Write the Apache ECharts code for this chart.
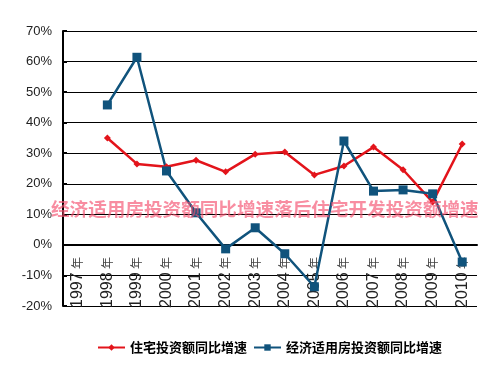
<!DOCTYPE html>
<html><head><meta charset="utf-8">
<script src="https://cdn.jsdelivr.net/npm/echarts@6/dist/echarts.min.js"></script>
<style>html,body{margin:0;padding:0;background:#fff}#c{width:494px;height:370px}</style>
</head><body><div id="c"></div>
<script>
const categories = ['1997年','1998年','1999年','2000年','2001年','2002年','2003年','2004年','2005年','2006年','2007年','2008年','2009年','2010年'];
const housingGrowth = [null, 35.0, 26.5, 25.6, 27.7, 23.9, 29.7, 30.4, 22.9, 25.8, 32.0, 24.6, 14.0, 33.0];
const affordableGrowth = [null, 45.8, 61.4, 24.2, 10.5, -1.3, 5.6, -2.9, -13.7, 34.0, 17.6, 18.0, 16.7, -5.6];
const seriesNames = ['住宅投资额同比增速', '经济适用房投资额同比增速'];
const watermark = '经济适用房投资额同比增速落后住宅开发投资额增速';

const chart = echarts.init(document.getElementById('c'));
chart.setOption({
  animation: false,
  backgroundColor: '#fff',
  grid: {left: 63, right: 17, top: 31, bottom: 64},
  legend: {
    left: 92, top: 336, itemWidth: 27, itemHeight: 8, itemGap: 6,
    textStyle: {fontFamily: 'Noto Sans CJK SC', fontWeight: 'bold', fontSize: 13, color: '#000'},
    data: seriesNames
  },
  xAxis: {
    type: 'category', data: categories, boundaryGap: true,
    axisLine: {onZero: true, lineStyle: {color: '#000', width: 2}},
    axisTick: {inside: true, length: 6, lineStyle: {color: '#000', width: 2}},
    axisLabel: {
      rotate: 90, margin: -49, color: '#222',
      formatter: function (v) { return '{d|' + v.replace('年', '') + '} {n|年}'; },
      rich: {
        d: {fontSize: 16, fontFamily: 'Liberation Sans', color: '#222'},
        n: {fontSize: 12, fontFamily: 'Noto Sans CJK SC', color: '#444'}
      }
    }
  },
  yAxis: {
    type: 'value', min: -20, max: 70, interval: 10,
    axisLine: {show: true, onZero: false, lineStyle: {color: '#000', width: 2}},
    axisTick: {show: true, inside: true, length: 4, lineStyle: {color: '#000', width: 2}},
    axisLabel: {formatter: '{value}%', fontSize: 13, color: '#222', margin: 11, fontFamily: 'Liberation Sans'},
    splitLine: {lineStyle: {color: '#000', width: 1}}
  },
  series: [
    {name: seriesNames[0], type: 'line', data: housingGrowth, color: '#e3141b',
     symbol: 'diamond', symbolSize: 7, lineStyle: {width: 2.5}, itemStyle: {color: '#e3141b'}},
    {name: seriesNames[1], type: 'line', data: affordableGrowth, color: '#10537c',
     symbol: 'rect', symbolSize: 9, lineStyle: {width: 2.5}, itemStyle: {color: '#10537c'}}
  ],
  graphic: [{
    type: 'text', left: 51, top: 200, z: 100,
    style: {text: watermark, fontSize: 18.6, fontWeight: 'bold', fontFamily: 'Noto Sans CJK SC',
            fill: 'rgba(245,80,110,0.65)'}
  }]
});
</script></body></html>
